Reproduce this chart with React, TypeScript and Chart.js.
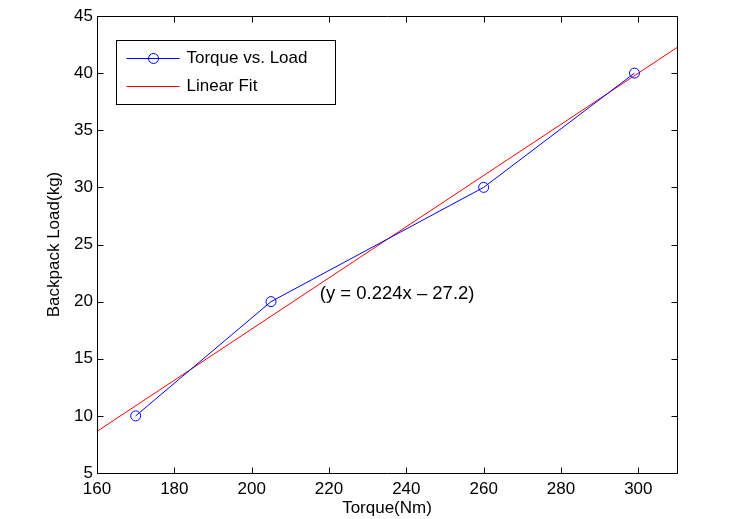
import React, { useEffect, useRef } from "react";
import { Chart, registerables } from "chart.js";

Chart.register(...registerables);

// ---- data ----
const torque = [170, 205, 260, 299];
const load = [10, 20, 30, 40];
const fitX = [160, 310];
const fitY = [8.64, 42.24];
const xTicks = [160, 180, 200, 220, 240, 260, 280, 300];
const yTicks = [5, 10, 15, 20, 25, 30, 35, 40, 45];
const seriesLabels = ["Torque vs. Load", "Linear Fit"];
const xTitle = "Torque(Nm)";
const yTitle = "Backpack Load(kg)";
const annotationText = "(y = 0.224x \u2013 27.2)";
const annotationAt = [217.6, 20.66];

const FONT = "'Liberation Sans', Arial, Helvetica, sans-serif";
const BLUE = "#0000ff";
const RED = "#ff0000";

const framePlugin = {
  id: "matlabFrame",
  afterDatasetsDraw(chart: any) {
    const { ctx, chartArea: a, scales } = chart;
    const L = Math.round(a.left) + 0.5;
    const R = Math.round(a.right) + 0.5;
    const T = Math.round(a.top) + 0.5;
    const B = Math.round(a.bottom) + 0.5;
    const tl = 6;
    ctx.save();
    ctx.strokeStyle = "#000";
    ctx.lineWidth = 1;
    ctx.beginPath();
    ctx.rect(L, T, R - L, B - T);
    for (const v of xTicks) {
      const x = Math.round(scales.x.getPixelForValue(v)) + 0.5;
      ctx.moveTo(x, B);
      ctx.lineTo(x, B - tl);
      ctx.moveTo(x, T);
      ctx.lineTo(x, T + tl);
    }
    for (const v of yTicks) {
      const y = Math.round(scales.y.getPixelForValue(v)) + 0.5;
      ctx.moveTo(L, y);
      ctx.lineTo(L + tl, y);
      ctx.moveTo(R, y);
      ctx.lineTo(R - tl, y);
    }
    ctx.stroke();

    // annotation
    ctx.fillStyle = "#000";
    ctx.font = `18.5px ${FONT}`;
    ctx.textAlign = "left";
    ctx.textBaseline = "middle";
    ctx.fillText(
      annotationText,
      scales.x.getPixelForValue(annotationAt[0]),
      scales.y.getPixelForValue(annotationAt[1])
    );

    // legend box
    const bx = Math.round(a.left) + 19.5;
    const by = Math.round(a.top) + 24.5;
    const bw = 219;
    const bh = 64;
    ctx.fillStyle = "#fff";
    ctx.fillRect(bx, by, bw, bh);
    ctx.strokeStyle = "#000";
    ctx.strokeRect(bx, by, bw, bh);
    const rows = [by + 17.5, by + 45.5];
    const colors = [BLUE, RED];
    for (let i = 0; i < 2; i++) {
      ctx.strokeStyle = colors[i];
      ctx.beginPath();
      ctx.moveTo(bx + 10, Math.round(rows[i]) + 0.5);
      ctx.lineTo(bx + 63, Math.round(rows[i]) + 0.5);
      ctx.stroke();
      if (i === 0) {
        ctx.beginPath();
        ctx.arc(bx + 37, Math.round(rows[i]) + 0.5, 5, 0, Math.PI * 2);
        ctx.stroke();
      }
      ctx.fillStyle = "#000";
      ctx.font = `17px ${FONT}`;
      ctx.textBaseline = "middle";
      ctx.fillText(seriesLabels[i], bx + 70, rows[i]);
    }
    ctx.restore();
  },
};

export default function App() {
  const ref = useRef<HTMLCanvasElement | null>(null);
  useEffect(() => {
    if (!ref.current) return;
    const chart = new Chart(ref.current, {
      type: "scatter",
      data: {
        datasets: [
          {
            label: seriesLabels[0],
            data: torque.map((x, i) => ({ x, y: load[i] })),
            showLine: true,
            borderColor: BLUE,
            borderWidth: 1,
            backgroundColor: "rgba(0,0,0,0)",
            pointBorderColor: BLUE,
            pointBackgroundColor: "rgba(0,0,0,0)",
            pointRadius: 5,
            pointBorderWidth: 1,
            pointStyle: "circle",
          },
          {
            label: seriesLabels[1],
            data: fitX.map((x, i) => ({ x, y: fitY[i] })),
            showLine: true,
            borderColor: RED,
            borderWidth: 1,
            pointRadius: 0,
          },
        ],
      },
      options: {
        responsive: false,
        animation: false,
        devicePixelRatio: 1,
        layout: { padding: { top: 16, right: 71, left: 0, bottom: 0 } },
        plugins: { legend: { display: false }, tooltip: { enabled: false } },
        scales: {
          x: {
            type: "linear",
            min: 160,
            max: 310,
            afterBuildTicks: (s: any) => {
              s.ticks = xTicks.map((v) => ({ value: v }));
            },
            afterFit: (s: any) => {
              s.height = 46;
            },
            grid: { display: false, drawTicks: false },
            border: { display: false },
            ticks: {
              color: "#000",
              font: { family: FONT, size: 17 },
              padding: 6,
              maxRotation: 0,
            },
            title: {
              display: true,
              text: xTitle,
              color: "#000",
              font: { family: FONT, size: 17 },
              padding: { top: 0, bottom: 0 },
            },
          },
          y: {
            type: "linear",
            min: 5,
            max: 45,
            afterBuildTicks: (s: any) => {
              s.ticks = yTicks.map((v) => ({ value: v }));
            },
            afterFit: (s: any) => {
              s.width = 97;
            },
            grid: { display: false, drawTicks: false },
            border: { display: false },
            ticks: {
              color: "#000",
              font: { family: FONT, size: 17 },
              padding: 4,
            },
            title: {
              display: true,
              text: yTitle,
              color: "#000",
              font: { family: FONT, size: 17 },
              padding: { top: 44, bottom: 0 },
            },
          },
        },
      },
      plugins: [framePlugin],
    });
    return () => chart.destroy();
  }, []);
  return (
    <div style={{ position: "absolute", left: 0, top: 0, width: 748, height: 519, background: "#fff" }}>
      <canvas ref={ref} width={748} height={519} style={{ display: "block" }} />
    </div>
  );
}
